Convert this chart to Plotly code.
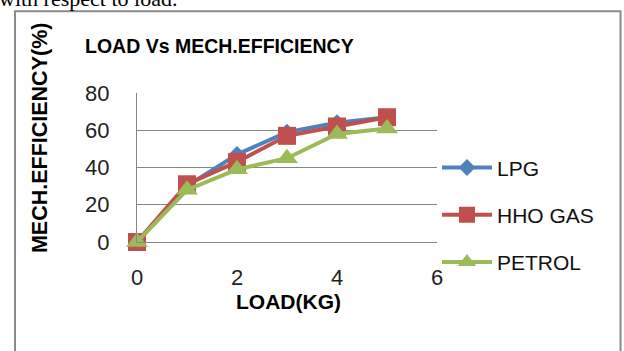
import plotly.graph_objects as go

load_kg = [0, 1, 2, 3, 4, 5]
lpg = [0, 30, 47, 59, 64, 67]
hho_gas = [0, 31, 43, 57, 62, 67]
petrol = [0, 28, 39, 45, 58, 61]

series_names = ["LPG", "HHO GAS", "PETROL"]
series_colors = ["#4F81BD", "#C0504D", "#9BBB59"]
series_symbols = ["diamond", "square", "triangle-up"]
series_sizes = [13, 18, 19]
series_values = [lpg, hho_gas, petrol]

W, H = 624, 351
L, R, T, B = 137, 187, 92.7, 108.7
pw, ph = W - L - R, H - T - B

def px(x):
    return (x - L) / pw

def py(y):
    return (H - B - y) / ph

fig = go.Figure()
for name, col, sym, sz, vals in zip(series_names, series_colors, series_symbols, series_sizes, series_values):
    fig.add_trace(go.Scatter(
        x=load_kg, y=vals, name=name, mode="lines+markers",
        line=dict(color=col, width=4),
        marker=dict(symbol=sym, size=sz, color=col),
        legendgroup=name, cliponaxis=False,
    ))

tick_font = dict(family="Liberation Sans, Arial, sans-serif", size=22, color="#222222")
grid_col = "#868686"

fig.update_layout(
    width=W, height=H,
    margin=dict(l=L, r=R, t=T, b=B),
    paper_bgcolor="white", plot_bgcolor="white",
    showlegend=True,
    legend=dict(
        x=1.0, xanchor="left", y=py(215), yanchor="middle",
        font=dict(family="Liberation Sans, Arial, sans-serif", size=21, color="#111111"),
        tracegroupgap=17, bgcolor="rgba(0,0,0,0)", itemwidth=50,
    ),
    xaxis=dict(
        range=[0, 6], dtick=2, tick0=0, showgrid=False, zeroline=False,
        showline=True, linecolor=grid_col, linewidth=1,
        ticks="", tickfont=tick_font, ticklabelstandoff=16,
    ),
    yaxis=dict(
        range=[0, 80], dtick=20, tick0=0, showgrid=True, gridcolor=grid_col, gridwidth=1,
        zeroline=False, showline=True, linecolor=grid_col, linewidth=1,
        ticks="", tickfont=tick_font, ticklabelstandoff=22,
    ),
)

bold = "Liberation Sans, Arial, sans-serif"
fig.add_annotation(
    text="<b>LOAD Vs MECH.EFFICIENCY</b>", xref="paper", yref="paper",
    x=px(219), y=py(46), xanchor="center", yanchor="middle", showarrow=False,
    font=dict(family=bold, size=19.5, color="#000000"),
)
fig.add_annotation(
    text="<b>MECH.EFFICIENCY(%)</b>", xref="paper", yref="paper",
    x=px(40), y=py(138), xanchor="center", yanchor="middle", showarrow=False,
    textangle=-90, font=dict(family=bold, size=21.5, color="#000000"),
)
fig.add_annotation(
    text="<b>LOAD(KG)</b>", xref="paper", yref="paper",
    x=px(288), y=py(302), xanchor="center", yanchor="middle", showarrow=False,
    font=dict(family=bold, size=21, color="#000000"),
)
fig.add_annotation(
    text="with respect to load.", xref="paper", yref="paper",
    x=px(-3), y=py(12), xanchor="left", yanchor="bottom", showarrow=False,
    font=dict(family="Liberation Serif, Times New Roman, serif", size=22, color="#000000"),
)
fig.add_shape(
    type="rect", xref="paper", yref="paper",
    x0=px(15), x1=px(620.5), y0=py(420), y1=py(10.5),
    line=dict(color="#8a8a8a", width=2), fillcolor="rgba(0,0,0,0)", layer="below",
)

fig.write_html("out.html")
